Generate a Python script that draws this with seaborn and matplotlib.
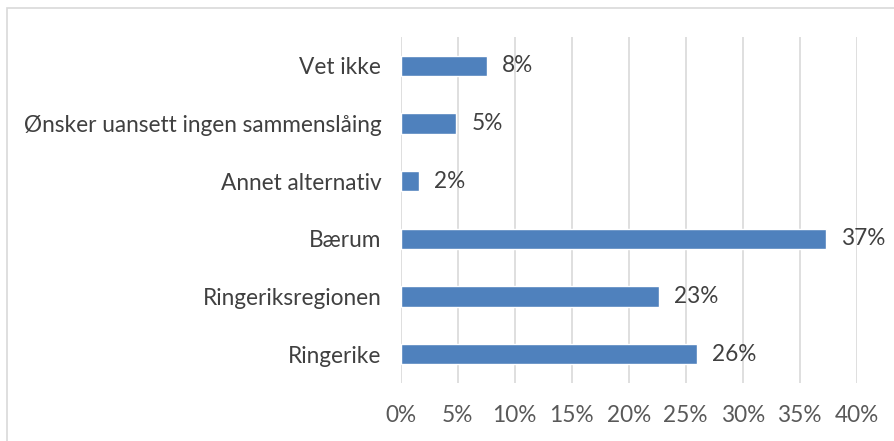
import matplotlib
matplotlib.use("Agg")
import matplotlib.pyplot as plt
import seaborn as sns
import pandas as pd

categories = ["Vet ikke", "Ønsker uansett ingen sammenslåing", "Annet alternativ",
              "Bærum", "Ringeriksregionen", "Ringerike"]
values = [7.55, 4.85, 1.6, 37.3, 22.65, 25.95]
xticks = [0, 5, 10, 15, 20, 25, 30, 35, 40]
xtick_labels = [f"{t}%" for t in xticks]

sns.set_theme(style="white")
plt.rcParams['font.family'] = ['Lato', 'DejaVu Sans']

df = pd.DataFrame({"cat": categories, "val": values})

fig = plt.figure(figsize=(8.94, 4.41), dpi=100)
ax = fig.add_axes([0.4482, 0.1315, 0.5101, 0.7846])

sns.barplot(data=df, y="cat", x="val", orient="h", color="#4F81BD",
            saturation=1, width=0.35, ax=ax, zorder=3)

ax.set_xlim(0, 40)
ax.set_ylim(5.5, -0.5)
ax.set_xticks(xticks)
ax.set_xticklabels(xtick_labels)
ax.grid(axis="x", color="#D9D9D9", linewidth=1.2, zorder=0)
ax.grid(axis="y", visible=False)
for s in ax.spines.values():
    s.set_visible(False)
ax.set_xlabel("")
ax.set_ylabel("")
ax.tick_params(axis="y", length=0, pad=14, labelsize=16.3, labelcolor="#404040")
ax.tick_params(axis="x", length=0, pad=16, labelsize=16.3, labelcolor="#595959")

ax.bar_label(ax.containers[0], labels=[f"{round(v)}%" for v in values],
             padding=11, fontsize=16.3, color="#404040")

# outer chart frame
fig.add_artist(plt.Rectangle((7/894, -0.1), 1.2, 1 - 8/441 + 0.1,
                             transform=fig.transFigure, fill=False,
                             edgecolor="#D9D9D9", linewidth=1.2))

fig.savefig("out.png", dpi=100)
